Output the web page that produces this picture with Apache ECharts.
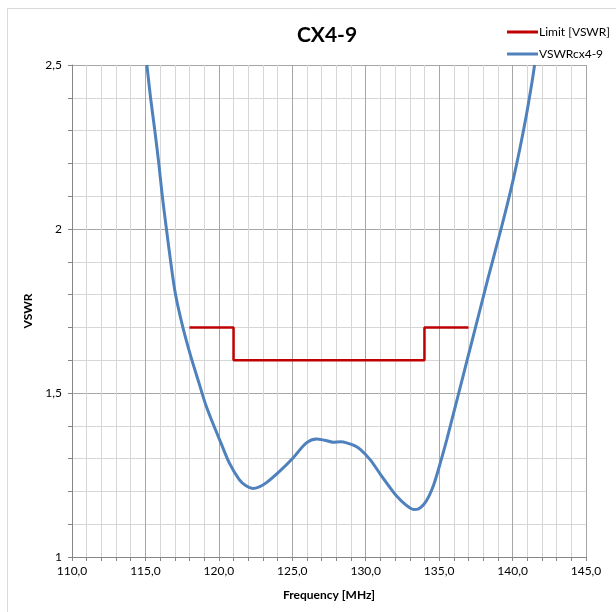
<!DOCTYPE html>
<html>
<head>
<meta charset="utf-8">
<script src="https://cdn.jsdelivr.net/npm/echarts@6/dist/echarts.min.js"></script>
<style>
html,body{margin:0;padding:0;background:#fff;}
#chart{width:616px;height:612px;}
</style>
</head>
<body>
<div id="chart"></div>
<script>
// Limit [VSWR] step line
const limitFreq = [118, 121, 121, 134, 134, 137];
const limitVswr = [1.7, 1.7, 1.6, 1.6, 1.7, 1.7];

// Measured VSWR curve
const measFreq = [115.1,115.35,115.64,115.91,116.15,116.43,116.72,117.05,117.55,118.1,118.65,119.1,119.57,120.14,120.71,121.39,121.85,122.31,122.75,123.22,124.13,125.05,125.96,126.64,127.2,127.79,128.3,128.7,129.2,129.61,130.3,131.0,131.6,132.12,132.7,133.26,133.6,133.95,134.3,134.63,135.1,135.52,136.05,136.62,137.19,137.76,138.33,138.92,139.5,140.04,140.52,140.95,141.33,141.5];
const measVswr = [2.50,2.40,2.30,2.20,2.10,2.00,1.90,1.80,1.70,1.61,1.53,1.465,1.41,1.348,1.287,1.236,1.217,1.209,1.214,1.226,1.261,1.302,1.348,1.360,1.356,1.350,1.351,1.348,1.340,1.329,1.297,1.252,1.215,1.185,1.160,1.145,1.147,1.160,1.185,1.220,1.29,1.358,1.45,1.55,1.65,1.75,1.85,1.95,2.05,2.15,2.25,2.35,2.45,2.50];

const xTicks = [110, 145, 5];   // min, max, interval
const yTicks = [1, 2.5, 0.5];

const font = 'Lato, "Open Sans", sans-serif';
const chart = echarts.init(document.getElementById('chart'));
const comma = v => String(v).replace('.', ',');

chart.setOption({
  animation: false,
  backgroundColor: '#fff',
  graphic: [{
    type: 'rect', shape: {x: 7.5, y: 8.5, width: 800, height: 800},
    style: {fill: 'none', stroke: '#d9d9d9', lineWidth: 1}, silent: true, z: -1
  }],
  title: {
    text: 'CX4-9', left: 322, top: 20, textAlign: 'center',
    textStyle: {fontFamily: font, fontSize: 21, fontWeight: 'bold', color: '#000'}
  },
  legend: {
    orient: 'vertical', left: 502, top: 21, itemWidth: 31, itemHeight: 3, itemGap: 10,
    icon: 'rect',
    textStyle: {fontFamily: font, fontSize: 12, color: '#000', padding: [0,0,0,-4]},
    data: ['Limit [VSWR]', 'VSWRcx4-9']
  },
  grid: {left: 72, right: 30, top: 65, bottom: 55, containLabel: false},
  xAxis: {
    type: 'value', min: xTicks[0], max: xTicks[1], interval: xTicks[2],
    name: 'Frequency [MHz]', nameLocation: 'middle', nameGap: 32,
    nameTextStyle: {fontFamily: font, fontSize: 12, fontWeight: 'bold', color: '#000'},
    axisLine: {show: true, onZero: false, lineStyle: {color: '#868686', width: 1}},
    axisTick: {show: true, length: 4, lineStyle: {color: '#868686'}},
    minorTick: {show: true, splitNumber: 5, length: 4, lineStyle: {color: '#868686'}},
    axisLabel: {fontFamily: font, fontSize: 12, color: '#000', margin: 8,
      formatter: v => v.toFixed(1).replace('.', ',')},
    splitLine: {show: true, lineStyle: {color: '#a6a6a6', width: 1}},
    minorSplitLine: {show: true, lineStyle: {color: '#d6d6d6', width: 1}}
  },
  yAxis: {
    type: 'value', min: yTicks[0], max: yTicks[1], interval: yTicks[2],
    name: 'VSWR', nameLocation: 'middle', nameGap: 33, nameRotate: 90,
    nameTextStyle: {fontFamily: font, fontSize: 12, fontWeight: 'bold', color: '#000'},
    axisLine: {show: true, lineStyle: {color: '#868686', width: 1}},
    axisTick: {show: true, length: 4, lineStyle: {color: '#868686'}},
    minorTick: {show: true, splitNumber: 5, length: 4, lineStyle: {color: '#868686'}},
    axisLabel: {fontFamily: font, fontSize: 12, color: '#000', margin: 10, formatter: comma},
    splitLine: {show: true, lineStyle: {color: '#a6a6a6', width: 1}},
    minorSplitLine: {show: true, lineStyle: {color: '#d6d6d6', width: 1}}
  },
  series: [
    {
      name: 'Limit [VSWR]', type: 'line', showSymbol: false, symbol: 'none',
      data: limitFreq.map((f, i) => [f, limitVswr[i]]),
      lineStyle: {color: '#c00000', width: 2.5}, itemStyle: {color: '#c00000'}, z: 3
    },
    {
      name: 'VSWRcx4-9', type: 'line', showSymbol: false, symbol: 'none', smooth: 0.3,
      data: measFreq.map((f, i) => [f, measVswr[i]]),
      lineStyle: {color: '#4f81bd', width: 3}, itemStyle: {color: '#4f81bd'}, z: 4
    }
  ]
});
</script>
</body>
</html>
